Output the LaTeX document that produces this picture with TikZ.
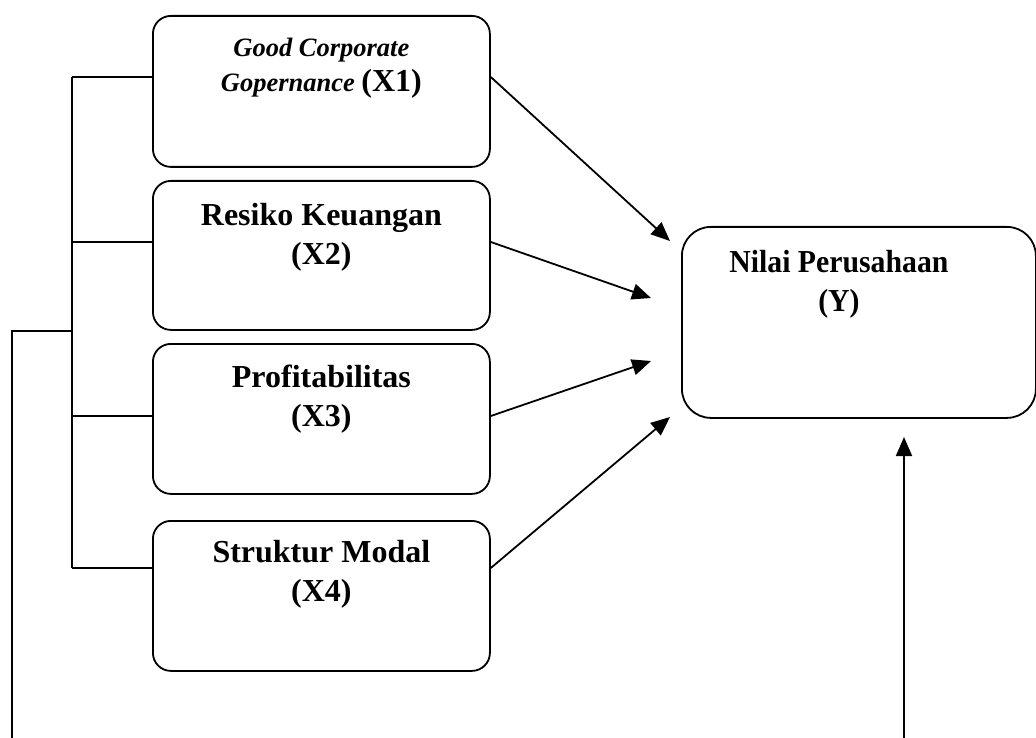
\documentclass[tikz,border=0pt]{standalone}
\usepackage{fontspec}
\setmainfont{Liberation Serif}
\newfontfamily\narrowserif[FakeStretch=0.93]{Liberation Serif}
\usetikzlibrary{arrows.meta,calc}
\tikzset{
  xbox/.style={draw,line width=1.8pt,rounded corners=18pt,minimum width=337pt,anchor=north west,inner sep=0pt},
  ybox/.style={draw,line width=1.8pt,rounded corners=29pt,minimum width=354pt,minimum height=191pt,anchor=north west,inner sep=0pt},
  lbl/.style={anchor=north,align=center,inner sep=0pt,font=\fontsize{32}{39}\selectfont\bfseries},
  wire/.style={line width=1.8pt},
  arr/.style={line width=1.8pt,-{Triangle[length=19pt,width=16pt]}}
}
\begin{document}
\begin{tikzpicture}[x=1pt,y=-1pt]
\useasboundingbox (0,0) rectangle (1036,738);
% boxes
\node[xbox,minimum height=151pt] (x1) at (152,15) {};
\node[xbox,minimum height=149pt] (x2) at (152,180) {};
\node[xbox,minimum height=150pt] (x3) at (152,343) {};
\node[xbox,minimum height=150pt] (x4) at (152,520) {};
\node[ybox] (y) at (681,226) {};
% labels
\node[lbl,font=\fontsize{26.5}{35}\selectfont\bfseries] (x1t) at ($(x1.north)+(0,23)$)
  {\itshape Good Corporate\\ \itshape Gopernance {\upshape\fontsize{32}{35}\selectfont(X1)}};
\node[lbl] (x2t) at ($(x2.north)+(0,23)$) {Resiko Keuangan\\(X2)};
\node[lbl] (x3t) at ($(x3.north)+(0,22)$) {Profitabilitas\\(X3)};
\node[lbl] (x4t) at ($(x4.north)+(0,20)$) {Struktur Modal\\(X4)};
\node[lbl,font=\fontsize{32}{39}\selectfont\narrowserif\bfseries] (yt) at ($(y.north)+(-20,24)$) {Nilai Perusahaan\\(Y)};
% bracket coordinates
\coordinate (b1) at (72,77);
\coordinate (b2) at (72,242);
\coordinate (b3) at (72,416);
\coordinate (b4) at (72,568);
\coordinate (jn) at (72,331);
\coordinate (l1) at (12,738);
\draw[wire] (b1) -- (b4);
\draw[wire] (b1) -- (b1 -| x1.west);
\draw[wire] (b2) -- (b2 -| x2.west);
\draw[wire] (b3) -- (b3 -| x3.west);
\draw[wire] (b4) -- (b4 -| x4.west);
\draw[wire] (jn) -- (jn -| l1) -- (l1);
% arrows to Y
\coordinate (t1) at (670,241);
\coordinate (t2) at (651,298);
\coordinate (t3) at (651,361);
\coordinate (t4) at (670,417);
\draw[arr] (b1 -| x1.east) -- (t1);
\draw[arr] (b2 -| x2.east) -- (t2);
\draw[arr] (b3 -| x3.east) -- (t3);
\draw[arr] (b4 -| x4.east) -- (t4);
% bottom arrow
\coordinate (yb) at (904,738);
\coordinate (ytip) at (904,437);
\draw[arr] (yb) -- (ytip);
\end{tikzpicture}
\end{document}
